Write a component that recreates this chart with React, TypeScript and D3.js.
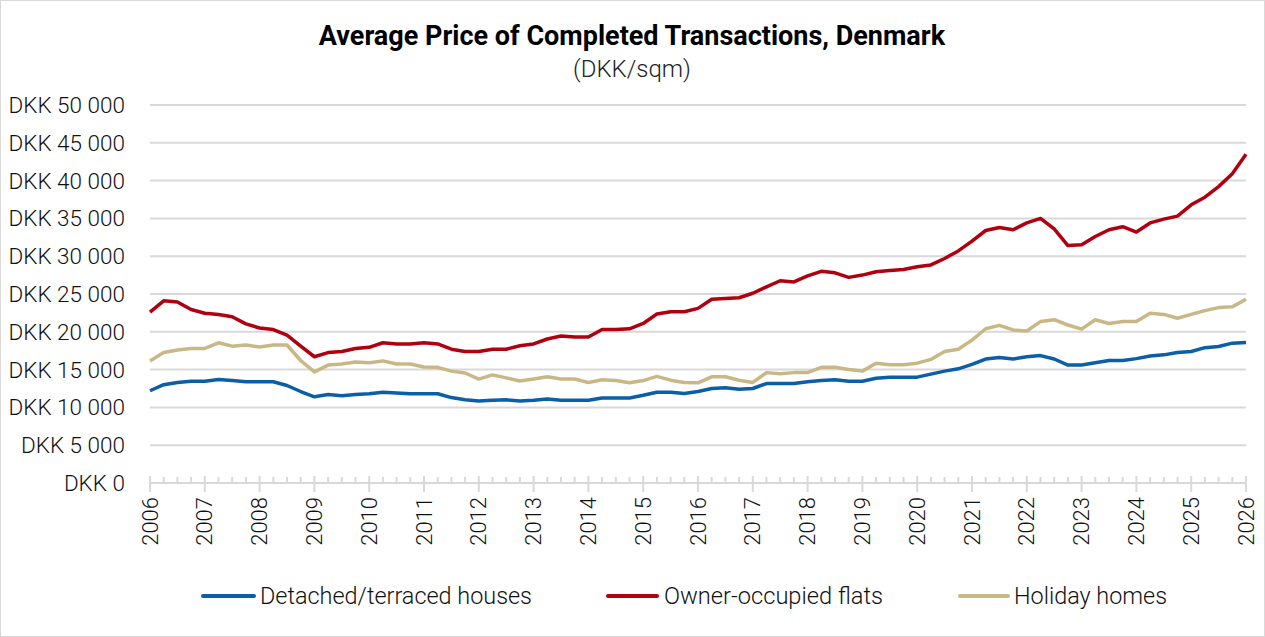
import React from "react";
import * as d3 from "d3";

// Quarterly average price per sqm, 2006Q1 – 2026Q1
const startYear = 2006;
const endYear = 2026;

const detachedHouses = [
  12200, 13000, 13300, 13450, 13450, 13700, 13550, 13400, 13400, 13400,
  12900, 12100, 11400, 11700, 11550, 11700, 11800, 12000, 11900, 11800,
  11800, 11800, 11300, 11000, 10850, 10950, 11000, 10850, 10950, 11100,
  10950, 10950, 10950, 11250, 11250, 11250, 11600, 12000, 12000, 11850,
  12100, 12500, 12600, 12400, 12500, 13150, 13150, 13150, 13400, 13550,
  13650, 13450, 13450, 13850, 14000, 14000, 14000, 14400, 14800, 15100,
  15700, 16400, 16600, 16400, 16700, 16850, 16400, 15600, 15600, 15900,
  16200, 16200, 16450, 16800, 16950, 17250, 17400, 17900, 18050, 18500,
  18600,
];

const ownerFlats = [
  22600, 24100, 23950, 22950, 22450, 22300, 22000, 21050, 20500, 20300,
  19550, 18100, 16700, 17250, 17400, 17800, 17950, 18550, 18400, 18400,
  18550, 18400, 17700, 17400, 17400, 17700, 17700, 18150, 18400, 19050,
  19450, 19300, 19300, 20300, 20300, 20400, 21100, 22350, 22650, 22650,
  23100, 24300, 24400, 24500, 25100, 25950, 26750, 26600, 27400, 28000,
  27800, 27200, 27500, 27950, 28100, 28250, 28600, 28850, 29700, 30700,
  32000, 33400, 33800, 33500, 34400, 35000, 33600, 31400, 31500, 32600,
  33500, 33900, 33200, 34400, 34900, 35300, 36800, 37800, 39200, 40900,
  43500,
];

const holidayHomes = [
  16150, 17250, 17600, 17800, 17800, 18550, 18100, 18250, 18000, 18250,
  18250, 16200, 14700, 15600, 15750, 16000, 15900, 16150, 15750, 15750,
  15350, 15300, 14800, 14550, 13750, 14300, 13900, 13500, 13750, 14050,
  13750, 13750, 13300, 13650, 13550, 13250, 13550, 14100, 13600, 13300,
  13250, 14050, 14050, 13600, 13300, 14600, 14450, 14600, 14600, 15300,
  15300, 15000, 14800, 15850, 15650, 15650, 15850, 16350, 17400, 17700,
  18900, 20400, 20850, 20250, 20100, 21350, 21600, 20900, 20350, 21600,
  21100, 21350, 21350, 22450, 22300, 21800, 22300, 22800, 23200, 23300,
  24300,
];

const yTicks = [0, 5000, 10000, 15000, 20000, 25000, 30000, 35000, 40000, 45000, 50000];
const yearTicks = d3.range(startYear, endYear + 1);

const seriesNames = ["Detached/terraced houses", "Owner-occupied flats", "Holiday homes"];
const seriesColors = ["#0b5ea8", "#b0000f", "#c9b886"];
const seriesValues = [detachedHouses, ownerFlats, holidayHomes];

const W = 1265;
const H = 637;
const FONT = "Roboto, 'Noto Sans', sans-serif";

const fmtDKK = (v: number) => {
  const s = String(v).replace(/\B(?=(\d{3})+(?!\d))/g, " ");
  return `DKK ${s}`;
};

export default function App() {
  const x = d3.scaleLinear().domain([startYear, endYear]).range([150, 1246]);
  const y = d3.scaleLinear().domain([0, 50000]).range([483, 105]);

  const line = d3
    .line<number>()
    .x((_, i) => x(startYear + i / 4))
    .y((d) => y(d))
    .curve(d3.curveLinear);

  const quarterTicks = d3.range(startYear, endYear + 0.001, 0.25);

  const legendItems = [
    { x0: 203, x1: 254, tx: 260, w: 272 },
    { x0: 608, x1: 657, tx: 664, w: 219 },
    { x0: 960, x1: 1008, tx: 1014, w: 153 },
  ];

  return (
    <svg
      width={W}
      height={H}
      style={{ position: "absolute", left: 0, top: 0, background: "#fff" }}
      fontFamily={FONT}
    >
      <rect x={0.5} y={0.5} width={W - 1} height={H - 1} fill="#fff" stroke="#d9d9d9" />

      <text x={632} y={45} textAnchor="middle" fontSize={27} fontWeight={700} fill="#000">
        Average Price of Completed Transactions, Denmark
      </text>
      <text x={632} y={77} textAnchor="middle" fontSize={24} fontWeight={300} fill="#222">
        (DKK/sqm)
      </text>

      {/* horizontal gridlines */}
      {yTicks.filter((t) => t > 0).map((t) => (
        <line key={t} x1={x(startYear)} x2={x(endYear)} y1={y(t)} y2={y(t)} stroke="#d9d9d9" strokeWidth={2} />
      ))}

      {/* y labels */}
      {yTicks.map((t) => (
        <text
          key={t}
          x={125}
          y={y(t)}
          textAnchor="end"
          dominantBaseline="central"
          fontSize={22.5}
          fontWeight={300}
          fill="#111"
        >
          {fmtDKK(t)}
        </text>
      ))}

      {/* x axis */}
      <line x1={x(startYear)} x2={x(endYear)} y1={y(0)} y2={y(0)} stroke="#d9d9d9" strokeWidth={2} />
      {quarterTicks.map((q) => {
        const major = Math.abs(q - Math.round(q)) < 1e-6;
        return (
          <line
            key={q}
            x1={x(q)}
            x2={x(q)}
            y1={major ? 476 : 477}
            y2={major ? 492 : 483}
            stroke="#d9d9d9"
            strokeWidth={2}
          />
        );
      })}
      {yearTicks.map((yr) => (
        <text
          key={yr}
          transform={`translate(${x(yr)},497) rotate(-90)`}
          textAnchor="end"
          dominantBaseline="central"
          fontSize={22}
          fontWeight={300}
          fill="#111"
        >
          {yr}
        </text>
      ))}

      {/* series */}
      {seriesValues.map((vals, i) => (
        <path
          key={seriesNames[i]}
          d={line(vals) || ""}
          fill="none"
          stroke={seriesColors[i]}
          strokeWidth={3.5}
          strokeLinejoin="round"
        />
      ))}

      {/* legend */}
      {legendItems.map((it, i) => (
        <g key={seriesNames[i]}>
          <line x1={it.x0} x2={it.x1} y1={596} y2={596} stroke={seriesColors[i]} strokeWidth={4} strokeLinecap="round" />
          <text
            x={it.tx}
            y={596}
            dominantBaseline="central"
            fontSize={24}
            fontWeight={300}
            fill="#111"
            textLength={it.w}
            lengthAdjust="spacingAndGlyphs"
          >
            {seriesNames[i]}
          </text>
        </g>
      ))}
    </svg>
  );
}
